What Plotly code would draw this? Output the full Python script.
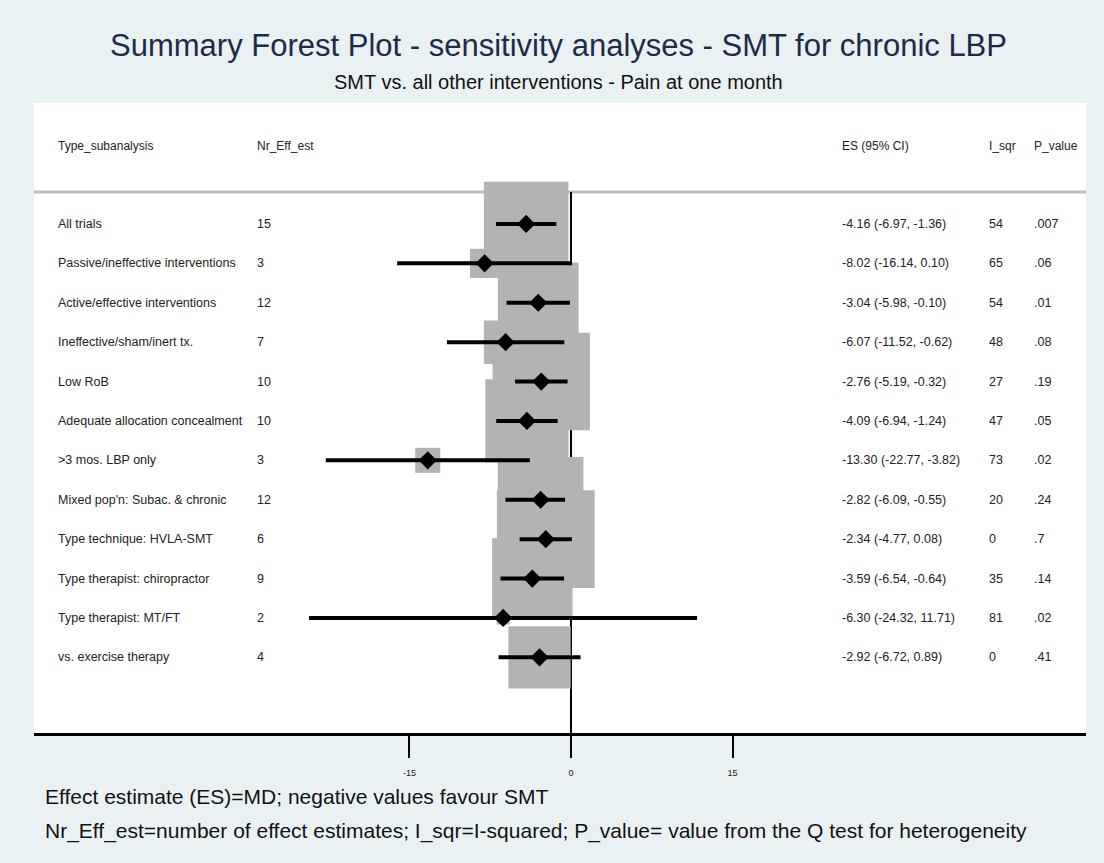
import plotly.graph_objects as go

# ---------------- data ----------------
labels = ["All trials", "Passive/ineffective interventions", "Active/effective interventions",
          "Ineffective/sham/inert tx.", "Low RoB", "Adequate allocation concealment",
          ">3 mos. LBP only", "Mixed pop'n: Subac. & chronic", "Type technique: HVLA-SMT",
          "Type therapist: chiropractor", "Type therapist: MT/FT", "vs. exercise therapy"]
nr_eff = [15, 3, 12, 7, 10, 10, 3, 12, 6, 9, 2, 4]
es = [-4.16, -8.02, -3.04, -6.07, -2.76, -4.09, -13.30, -2.82, -2.34, -3.59, -6.30, -2.92]
ci_lo = [-6.97, -16.14, -5.98, -11.52, -5.19, -6.94, -22.77, -6.09, -4.77, -6.54, -24.32, -6.72]
ci_hi = [-1.36, 0.10, -0.10, -0.62, -0.32, -1.24, -3.82, -0.55, 0.08, -0.64, 11.71, 0.89]
i_sqr = [54, 65, 54, 48, 27, 47, 73, 20, 0, 35, 81, 0]
p_value = [".007", ".06", ".01", ".08", ".19", ".05", ".02", ".24", ".7", ".14", ".02", ".41"]
x_ticks = [-15, 0, 15]
headers = ["Type_subanalysis", "Nr_Eff_est", "ES (95% CI)", "I_sqr", "P_value"]

# ---------------- layout geometry ----------------
W, H = 1104, 863
ML, MR, MT, MB = 34, 18, 103, 130
PW, PH = W - ML - MR, H - MT - MB
XR = [-49.86, 47.82]
YR = [12.92, -3.07]

rows = list(range(len(labels)))
HEADER_Y = -1.98
SEP_Y = -0.81

def px_x(px):
    return (px - ML) / PW

def px_y(py):
    return (H - MB - py) / PH

FONT = "Liberation Sans, Arial, sans-serif"
TXT = "#222222"

# inverse-variance weights -> box size
se = [(h - l) / 3.92 for l, h in zip(ci_lo, ci_hi)]
wts = [1 / s ** 2 for s in se]
box_px = [121 * w ** 0.5 for w in wts]

fig = go.Figure()

# weight boxes
fig.add_trace(go.Scatter(
    x=es, y=rows, mode="markers",
    marker=dict(symbol="square", size=box_px, color="#B3B3B3", opacity=1, line=dict(width=0)),
    hoverinfo="skip", showlegend=False))

# CI lines
cx, cy = [], []
for l, h, r in zip(ci_lo, ci_hi, rows):
    cx += [l, h, None]
    cy += [r, r, None]
fig.add_trace(go.Scatter(x=cx, y=cy, mode="lines",
                         line=dict(color="black", width=4),
                         hoverinfo="skip", showlegend=False))

# point estimates
fig.add_trace(go.Scatter(x=es, y=rows, mode="markers",
                         marker=dict(symbol="diamond", size=14, color="black", opacity=1),
                         showlegend=False))

shapes = [
    dict(type="line", xref="x", yref="y", x0=0, x1=0, y0=SEP_Y, y1=YR[0],
         line=dict(color="black", width=2), layer="below"),
    dict(type="line", xref="paper", yref="y", x0=0, x1=1, y0=SEP_Y, y1=SEP_Y,
         line=dict(color="#BDBDBD", width=3), layer="below"),
]

col_x = [px_x(56), px_x(255), px_x(840), px_x(987), px_x(1032)]
ann = []
for cxp, htxt in zip(col_x, headers):
    ann.append(dict(x=cxp, y=HEADER_Y, xref="paper", yref="y", text=htxt, showarrow=False,
                    xanchor="left", yanchor="middle", font=dict(family=FONT, size=12, color=TXT)))
for r in rows:
    vals = [labels[r], str(nr_eff[r]), f"{es[r]:.2f} ({ci_lo[r]:.2f}, {ci_hi[r]:.2f})",
            str(i_sqr[r]), p_value[r]]
    for cxp, v in zip(col_x, vals):
        ann.append(dict(x=cxp, y=r, xref="paper", yref="y", text=v, showarrow=False,
                        xanchor="left", yanchor="middle", font=dict(family=FONT, size=12.5, color=TXT)))

ann += [
    dict(x=px_x(558), y=px_y(45), xref="paper", yref="paper", showarrow=False,
         xanchor="center", yanchor="middle",
         text="Summary Forest Plot - sensitivity analyses - SMT for chronic LBP",
         font=dict(family=FONT, size=31, color="#1E2A4A")),
    dict(x=px_x(558), y=px_y(82), xref="paper", yref="paper", showarrow=False,
         xanchor="center", yanchor="middle",
         text="SMT vs. all other interventions - Pain at one month",
         font=dict(family=FONT, size=20, color="#111111")),
    dict(x=px_x(43), y=px_y(796), xref="paper", yref="paper", showarrow=False,
         xanchor="left", yanchor="middle",
         text="Effect estimate (ES)=MD; negative values favour SMT",
         font=dict(family=FONT, size=21, color="#111111")),
    dict(x=px_x(43), y=px_y(831), xref="paper", yref="paper", showarrow=False,
         xanchor="left", yanchor="middle",
         text="Nr_Eff_est=number of effect estimates; I_sqr=I-squared; P_value= value from the Q test for heterogeneity",
         font=dict(family=FONT, size=21, color="#111111")),
]

fig.update_layout(
    width=W, height=H,
    margin=dict(l=ML, r=MR, t=MT, b=MB, pad=0),
    paper_bgcolor="#EAF1F3", plot_bgcolor="white",
    shapes=shapes, annotations=ann, showlegend=False,
    xaxis=dict(range=XR, tickvals=x_ticks, ticktext=[str(t) for t in x_ticks],
               ticks="outside", ticklen=22, tickwidth=2, tickcolor="black",
               showline=True, linewidth=3, linecolor="black", showgrid=False, zeroline=False,
               tickfont=dict(family=FONT, size=9, color=TXT), ticklabelstandoff=7,
               fixedrange=True),
    yaxis=dict(range=YR, visible=False, showgrid=False, zeroline=False, fixedrange=True),
)

fig.write_html("out.html")
